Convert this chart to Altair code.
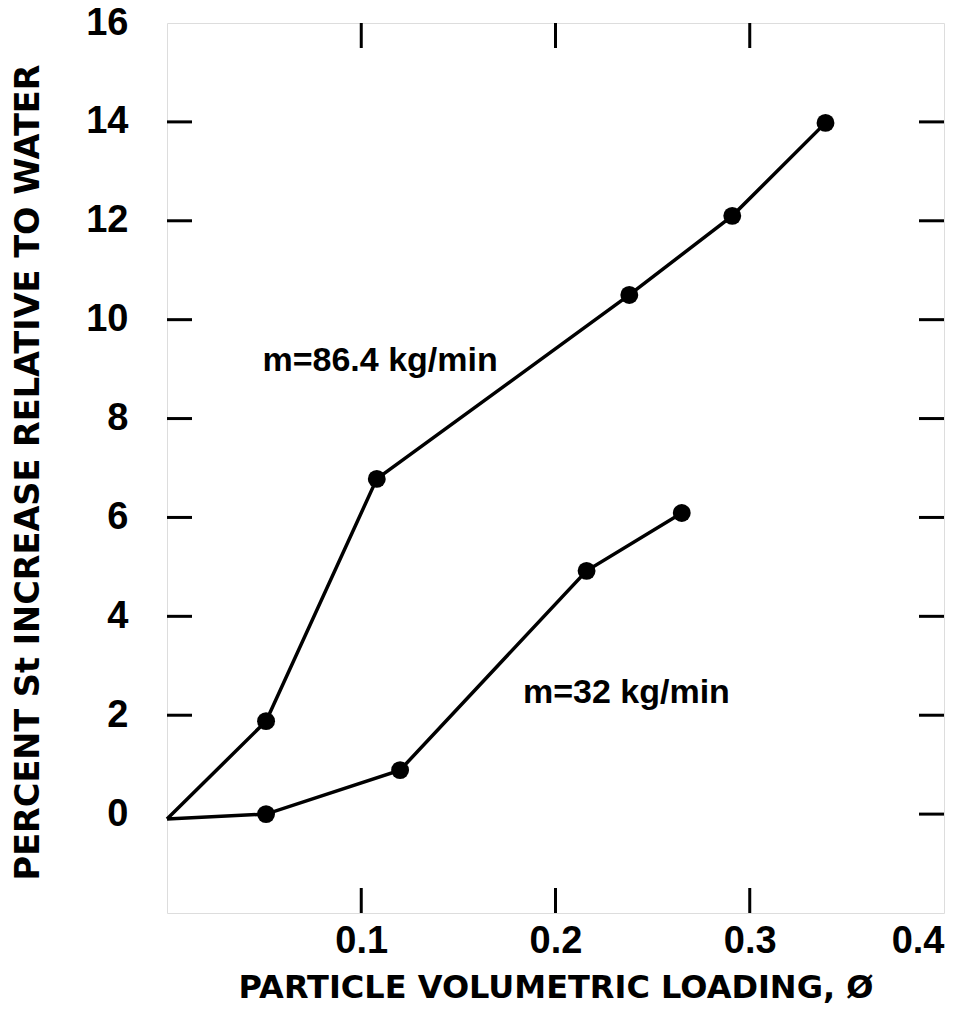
import altair as alt
import pandas as pd

# Series data
phi_high = [0.0, 0.051, 0.108, 0.238, 0.291, 0.339]
st_high = [-0.1, 1.88, 6.78, 10.5, 12.1, 13.98]
phi_low = [0.0, 0.051, 0.120, 0.216, 0.265]
st_low = [-0.1, 0.0, 0.89, 4.92, 6.09]
marker_high = [False, True, True, True, True, True]
marker_low = [False, True, True, True, True]

labels = ["m=86.4 kg/min", "m=32 kg/min"]
label_x = [0.1097, 0.2365]
label_y = [9.16, 2.45]

x_ticks = [0.1, 0.2, 0.3]
x_tick_labels = [0.1, 0.2, 0.3, 0.4]
y_ticks_left = [2, 4, 6, 8, 10, 12, 14]
y_ticks_right = [0, 2, 4, 6, 8, 10, 12, 14]
y_tick_labels = [0, 2, 4, 6, 8, 10, 12, 14, 16]

W, H = 777, 890
TL = 25
FONT = "Liberation Sans"
TFONT = "DejaVu Sans"

df = pd.DataFrame({
    "phi": phi_high + phi_low,
    "st": st_high + st_low,
    "series": ["86.4"] * len(phi_high) + ["32"] * len(phi_low),
    "marker": marker_high + marker_low,
})
lab_df = pd.DataFrame({"x": label_x, "y": label_y, "text": labels})
xt_df = pd.DataFrame({"v": x_ticks})
ytl_df = pd.DataFrame({"v": y_ticks_left})
ytr_df = pd.DataFrame({"v": y_ticks_right})

xscale = alt.Scale(domain=[0, 0.4], nice=False, zero=False)
yscale = alt.Scale(domain=[-2, 16], nice=False, zero=False)

xaxis = alt.Axis(values=x_tick_labels, ticks=False, domain=False, grid=False,
                 labelFontSize=38, labelFont=FONT, labelFontWeight="bold",
                 labelColor="black", labelPadding=9, format=".1f",
                 title="PARTICLE VOLUMETRIC LOADING, Ø", titleFont=TFONT,
                 titleFontSize=32, titleFontWeight="bold", titleColor="black",
                 titlePadding=12)
yaxis = alt.Axis(values=y_tick_labels, ticks=False, domain=False, grid=False,
                 labelFontSize=38, labelFont=FONT, labelFontWeight="bold",
                 labelColor="black", labelPadding=39, format="d",
                 title="PERCENT St INCREASE RELATIVE TO WATER", titleFont=TFONT,
                 titleFontSize=33.5, titleFontWeight="bold", titleColor="black",
                 titlePadding=40, titleY=449)

base = alt.Chart(df)
lines = base.mark_line(color="black", strokeWidth=3.5).encode(
    x=alt.X("phi:Q", scale=xscale, axis=xaxis),
    y=alt.Y("st:Q", scale=yscale, axis=yaxis),
    detail="series:N",
)
points = base.transform_filter(alt.datum.marker).mark_point(
    filled=True, color="black", size=320, opacity=1
).encode(x=alt.X("phi:Q", scale=xscale), y=alt.Y("st:Q", scale=yscale))

texts = alt.Chart(lab_df).mark_text(
    font=FONT, fontSize=34, fontWeight="bold", color="black", align="center", baseline="middle"
).encode(x=alt.X("x:Q", scale=xscale), y=alt.Y("y:Q", scale=yscale), text="text:N")

top_ticks = alt.Chart(xt_df).mark_rule(color="black", strokeWidth=3).encode(
    x=alt.X("v:Q", scale=xscale), y=alt.value(0), y2=alt.value(TL))
bottom_ticks = alt.Chart(xt_df).mark_rule(color="black", strokeWidth=3).encode(
    x=alt.X("v:Q", scale=xscale), y=alt.value(H - TL), y2=alt.value(H))
left_ticks = alt.Chart(ytl_df).mark_rule(color="black", strokeWidth=3).encode(
    y=alt.Y("v:Q", scale=yscale), x=alt.value(0), x2=alt.value(TL))
right_ticks = alt.Chart(ytr_df).mark_rule(color="black", strokeWidth=3).encode(
    y=alt.Y("v:Q", scale=yscale), x=alt.value(W - TL), x2=alt.value(W))

chart = alt.layer(
    top_ticks, bottom_ticks, left_ticks, right_ticks, lines, points, texts
).properties(
    width=W, height=H,
    autosize=alt.AutoSizeParams(type="none"),
    padding={"left": 159, "top": 15, "right": 22, "bottom": 97},
).configure_view(stroke="black", strokeWidth=3.5).configure(background="white")

chart.save("out.html", embed_options={"renderer": "svg", "actions": False})
